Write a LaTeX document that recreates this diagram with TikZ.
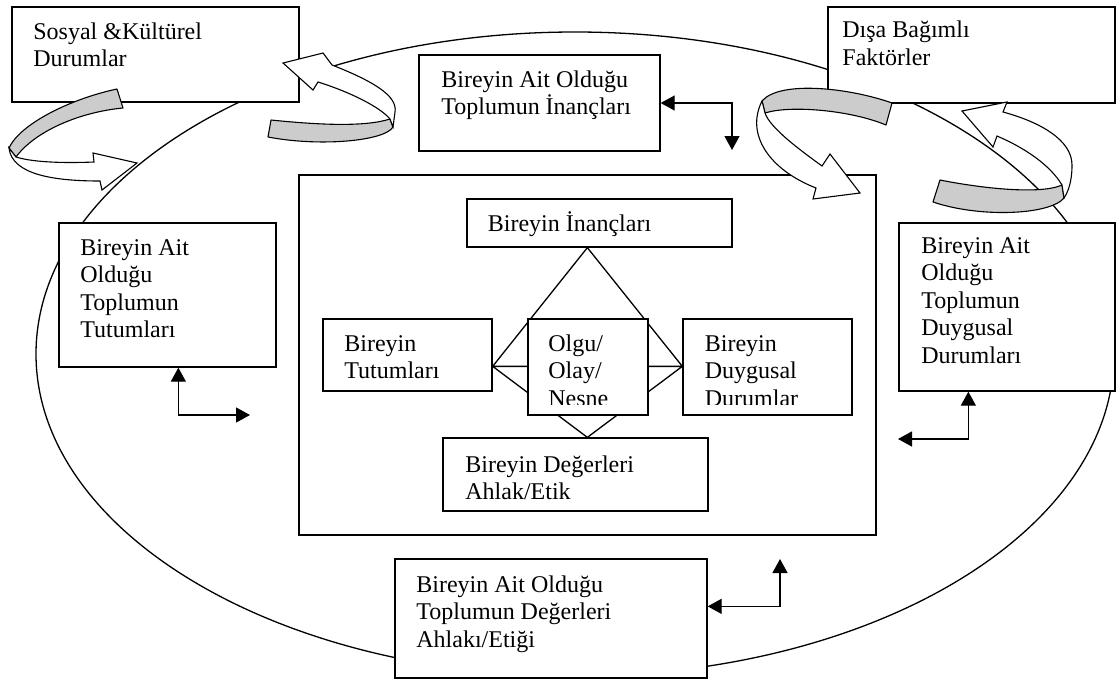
\documentclass[tikz,border=0pt]{standalone}
\usepackage{fontspec}
\setmainfont{Liberation Serif}
\usetikzlibrary{arrows.meta,calc,fit}
\definecolor{ribbon}{RGB}{204,204,204}
\begin{document}
\begin{tikzpicture}[x=0.5pt,y=-0.5pt,
  box/.style={draw, fill=white, line width=0.65pt, inner sep=0pt},
  txt/.style={anchor=base west, align=left, inner sep=0pt, font=\fontsize{12pt}{13.8pt}\selectfont},
  lnk/.style={line width=0.65pt, {Triangle[length=7pt,width=7.5pt]}-{Triangle[length=7pt,width=7.5pt]}},
  back/.style={fill=ribbon, draw, line width=0.55pt, line join=round},
  front/.style={fill=white, draw, line width=0.55pt, line join=miter}]

\useasboundingbox (0,0) rectangle (1118,681);
\draw[line width=0.65pt] (575,354) ellipse [x radius=539, y radius=322];

% outer boxes
\node[box, fit={(12,7)(299,102)}] (sos) {};
\node[box, fit={(828,7)(1115,103)}] (disa) {};
\node[box, fit={(419,55)(660,151)}] (inanc) {};
\node[box, fit={(59,223)(276,367)}] (tutT) {};
\node[box, fit={(899,223)(1115,391)}] (duyT) {};
\node[box, fit={(395,559)(707,678)}] (degT) {};
\node[box, fit={(299,175)(876,535)}] (big) {};

% inner boxes
\node[box, fit={(467,199)(732,247)}] (inancI) {};
\node[box, fit={(323,319)(492,391)}] (tutI) {};
\node[box, fit={(683,319)(852,415)}] (duyI) {};
\node[box, fit={(443,438)(708,511)}] (degI) {};

% diamond
\coordinate (dT) at ($(inancI.south west)+(121,0)$);
\coordinate (dL) at ($(tutI.north east)+(0,48)$);
\coordinate (dR) at ($(duyI.north west)+(0,48)$);
\coordinate (dB) at ($(degI.north west)+(145,0)$);
\draw[line width=0.65pt] (dT) -- (dL) -- (dB) -- (dR) -- cycle (dL) -- (dR);
\node[box, fit={(528,319)(648,415)}] (olgu) {};

% texts (anchored at the baseline of the last line)
\node[txt] (sos-t) at (33,66.6) {Sosyal \&Kültürel\\Durumlar};
\node[txt] (disa-t) at (842,65.1) {Dışa Bağımlı\\Faktörler};
\node[txt] (inanc-t) at (441,114.6) {Bireyin Ait Olduğu\\Toplumun İnançları};
\node[txt] (tutT-t) at (80,337.8) {Bireyin Ait\\Olduğu\\Toplumun\\Tutumları};
\node[txt] (duyT-t) at (921,363.4) {Bireyin Ait\\Olduğu\\Toplumun\\Duygusal\\Durumları};
\node[txt] (degT-t) at (416,647.2) {Bireyin Ait Olduğu\\Toplumun Değerleri\\Ahlakı/Etiği};
\node[txt] (inancI-t) at (487.5,231) {Bireyin İnançları};
\node[txt] (tutI-t) at (344,378.6) {Bireyin\\Tutumları};
\begin{scope}
  \clip (528,319) rectangle (648,404);
  \node[txt] (olgu-t) at (548,406.2) {Olgu/\\Olay/\\Nesne};
\end{scope}
\begin{scope}
  \clip (683,319) rectangle (852,404);
  \node[txt] (duyI-t) at (704.5,406.2) {Bireyin\\Duygusal\\Durumlar};
\end{scope}
\node[txt] (degI-t) at (465,499.6) {Bireyin Değerleri\\Ahlak/Etik};

% elbow connectors
\coordinate (e1) at (732,150);
\draw[lnk] (inanc.east) -| (e1);
\coordinate (e2) at (250,415);
\draw[lnk] ($(tutT.south west)+(120,0)$) |- (e2);
\coordinate (e3) at (898,439);
\draw[lnk] ($(duyT.south west)+(70,0)$) |- (e3);
\coordinate (e4) at (780,559);
\draw[lnk] ($(degT.north east)+(0,48)$) -| (e4);

% curved twisted arrows
% A
\draw[back] (117,89) .. controls (70,99) and (20,124) .. (9,148) -- (16,157) .. controls (35,131) and (80,112) .. (123,108) -- cycle;
\draw[front] (16,157) .. controls (35,163) and (70,163) .. (94,162) -- (93,153) -- (137,163) -- (102,190) -- (100,181) .. controls (55,181) and (12,175) .. (9,148) -- cycle;
% B
\draw[back] (271,120) .. controls (320,125) and (365,127) .. (390,119) -- (393,127) .. controls (385,141) and (320,147) .. (268,137) -- cycle;
\draw[front] (390,119) .. controls (380,107) and (350,92) .. (318,82) -- (313,90) -- (283,63) -- (323,53) -- (332,65) .. controls (370,80) and (398,95) .. (395,112) .. controls (394,120) .. (393,127) -- cycle;
% C
\draw[back] (892,103) .. controls (850,88) and (780,80) .. (762,101) -- (765,113) .. controls (790,105) and (850,110) .. (886,125) -- cycle;
\draw[front] (765,113) .. controls (770,128) and (800,150) .. (822,166) -- (830,154) -- (860,193) -- (813,199) -- (816,188) .. controls (770,170) and (745,135) .. (762,101) -- cycle;
% D
\draw[back] (940,180) .. controls (980,188) and (1040,195) .. (1062,185) -- (1064,198) .. controls (1050,215) and (980,218) .. (933,202) -- cycle;
\draw[front] (1062,185) .. controls (1050,165) and (1025,148) .. (997,136) -- (993,147) -- (962,111) -- (1007,102) -- (1003,112) .. controls (1040,122) and (1072,140) .. (1072,165) .. controls (1072,182) and (1068,192) .. (1064,198) -- cycle;
\end{tikzpicture}
\end{document}
